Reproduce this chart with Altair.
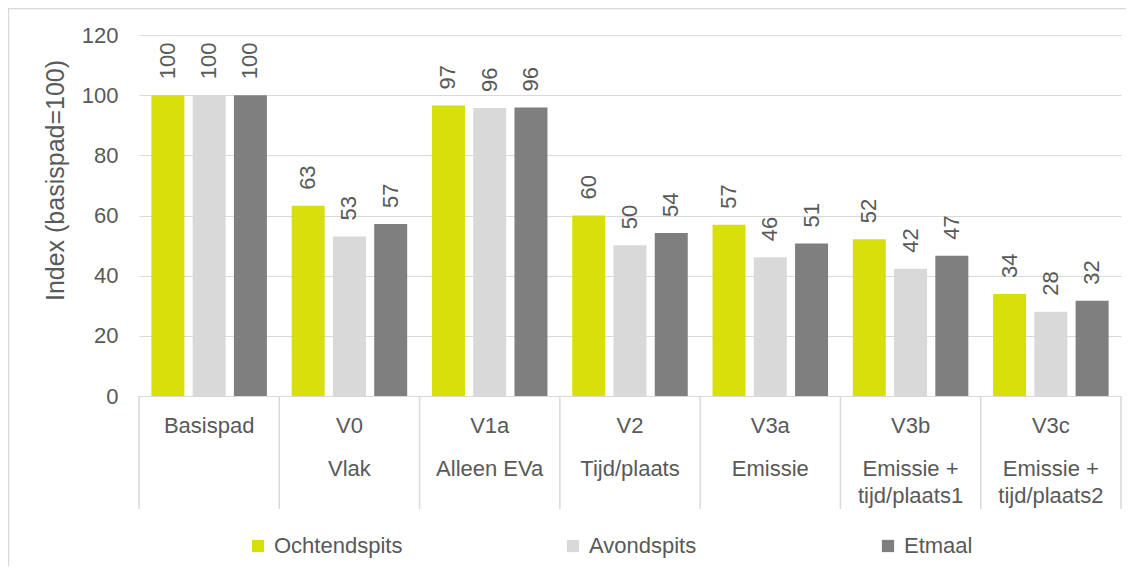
import altair as alt
import pandas as pd

categories = ["Basispad", "V0", "V1a", "V2", "V3a", "V3b", "V3c"]
outer_labels = ["", "Vlak", "Alleen EVa", "Tijd/plaats", "Emissie",
                "Emissie +|tijd/plaats1", "Emissie +|tijd/plaats2"]
series = ["Ochtendspits", "Avondspits", "Etmaal"]
ochtendspits = [100, 63.2, 96.6, 60.0, 56.9, 52.1, 33.9]
avondspits = [100, 53.0, 95.7, 50.1, 46.1, 42.3, 28.0]
etmaal = [100, 57.2, 95.9, 54.2, 50.7, 46.6, 31.7]
colors = ["#d8e00c", "#d9d9d9", "#7f7f7f"]
y_ticks = [0, 20, 40, 60, 80, 100, 120]

rows = []
for s, vals in zip(series, [ochtendspits, avondspits, etmaal]):
    for c, v in zip(categories, vals):
        rows.append({"cat": c, "series": s, "value": v})
df = pd.DataFrame(rows)
df_cat = pd.DataFrame({"cat": categories, "outer": outer_labels})
df_last = df_cat[df_cat["cat"] == categories[-1]]
df_one = pd.DataFrame({"a": [1]})

FONT = "Liberation Sans"
TXT = "#595959"
GRID = "#d9d9d9"

xscale = alt.Scale(paddingInner=0, paddingOuter=0)
x_enc = alt.X("cat:N", sort=categories, scale=xscale,
              axis=alt.Axis(title=None, labelAngle=0, labelFontSize=22, labelColor=TXT,
                            labelPadding=29, labelBaseline="middle", ticks=False,
                            domainColor=GRID, domainWidth=1))
xoff = alt.XOffset("series:N", sort=series,
                   scale=alt.Scale(paddingInner=0.2, paddingOuter=0.3))
y_enc = alt.Y("value:Q", scale=alt.Scale(domain=[0, 120]),
              axis=alt.Axis(values=y_ticks, title="Index (basispad=100)", grid=True,
                            gridColor=GRID, gridWidth=1, domain=False, ticks=False,
                            labelPadding=21, labelFontSize=22, labelColor=TXT,
                            titleFontSize=25, titleColor=TXT, titleFontWeight="normal",
                            titleX=-76, titleY=145, titleAngle=270, titleAlign="center",
                            titleBaseline="alphabetic"))

border = alt.Chart(df_one).mark_rect(filled=False, color=GRID, strokeWidth=1.5).encode(
    x=alt.value(-130.5), x2=alt.value(1300), y=alt.value(-26.5), y2=alt.value(800))

bars = alt.Chart(df).mark_bar().encode(
    x=x_enc, xOffset=xoff, y=y_enc,
    color=alt.Color("series:N", sort=series,
                    scale=alt.Scale(domain=series, range=colors),
                    legend=alt.Legend(title=None, orient="none", legendX=108, legendY=500,
                                      direction="horizontal", columns=3, gridAlign="all",
                                      columnPadding=159, symbolType="square",
                                      symbolSize=150, symbolStrokeWidth=0,
                                      labelFontSize=22, labelColor=TXT, labelOffset=5)))

labels = alt.Chart(df).mark_text(angle=270, align="left", baseline="middle", dx=16,
                                 fontSize=22, color=TXT).encode(
    x=alt.X("cat:N", sort=categories, scale=xscale), xOffset=xoff,
    y=alt.Y("value:Q"), text=alt.Text("value:Q", format=".0f"))

dividers = alt.Chart(df_cat).mark_rule(color=GRID, strokeWidth=1.5).encode(
    x=alt.X("cat:N", sort=categories, scale=xscale, bandPosition=0),
    y=alt.value(361), y2=alt.value(474))
last_divider = alt.Chart(df_last).mark_rule(color=GRID, strokeWidth=1.5).encode(
    x=alt.X("cat:N", sort=categories, scale=xscale, bandPosition=1),
    y=alt.value(361), y2=alt.value(474))

outer = alt.Chart(df_cat).transform_calculate(
    lines="split(datum.outer, '|')").mark_text(
    baseline="alphabetic", fontSize=22, color=TXT, lineHeight=27).encode(
    x=alt.X("cat:N", sort=categories, scale=xscale),
    y=alt.value(441), text="lines:N")

chart = alt.layer(border, bars, labels, dividers, last_divider, outer).properties(
    width=982, height=361,
    padding={"left": 131, "top": 27, "right": 5, "bottom": 170},
    autosize=alt.AutoSizeParams(type="none"),
).configure(font=FONT).configure_view(stroke=None)

chart.save("out.html", embed_options={"renderer": "svg", "actions": False})
